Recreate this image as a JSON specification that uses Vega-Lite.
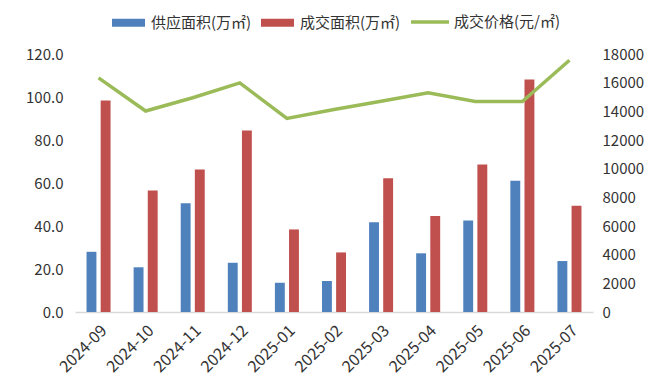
{
  "$schema": "https://vega.github.io/schema/vega-lite/v6.json",
  "width": 518,
  "height": 258,
  "autosize": {"type": "none"},
  "padding": {"left": 75, "top": 54, "right": 67, "bottom": 80},
  "background": "white",
  "config": {
    "view": {"stroke": null},
    "font": "Noto Sans CJK SC",
    "axis": {"labelFont": "Noto Sans CJK SC", "labelColor": "#333333", "labelFontSize": 15, "ticks": false, "grid": false, "title": null},
    "legend": {"labelFont": "Noto Sans CJK SC", "labelFontSize": 15, "labelColor": "#333333"}
  },
  "datasets": {
    "areas": [
      {"month": "2024-09", "series": "供应面积(万㎡)", "value": 28.0},
      {"month": "2024-10", "series": "供应面积(万㎡)", "value": 20.8},
      {"month": "2024-11", "series": "供应面积(万㎡)", "value": 50.6},
      {"month": "2024-12", "series": "供应面积(万㎡)", "value": 22.9},
      {"month": "2025-01", "series": "供应面积(万㎡)", "value": 13.6},
      {"month": "2025-02", "series": "供应面积(万㎡)", "value": 14.4},
      {"month": "2025-03", "series": "供应面积(万㎡)", "value": 41.7},
      {"month": "2025-04", "series": "供应面积(万㎡)", "value": 27.3},
      {"month": "2025-05", "series": "供应面积(万㎡)", "value": 42.6},
      {"month": "2025-06", "series": "供应面积(万㎡)", "value": 61.0},
      {"month": "2025-07", "series": "供应面积(万㎡)", "value": 23.7},
      {"month": "2024-09", "series": "成交面积(万㎡)", "value": 98.4},
      {"month": "2024-10", "series": "成交面积(万㎡)", "value": 56.5},
      {"month": "2024-11", "series": "成交面积(万㎡)", "value": 66.3},
      {"month": "2024-12", "series": "成交面积(万㎡)", "value": 84.4},
      {"month": "2025-01", "series": "成交面积(万㎡)", "value": 38.4},
      {"month": "2025-02", "series": "成交面积(万㎡)", "value": 27.7},
      {"month": "2025-03", "series": "成交面积(万㎡)", "value": 62.2},
      {"month": "2025-04", "series": "成交面积(万㎡)", "value": 44.6},
      {"month": "2025-05", "series": "成交面积(万㎡)", "value": 68.6},
      {"month": "2025-06", "series": "成交面积(万㎡)", "value": 108.1},
      {"month": "2025-07", "series": "成交面积(万㎡)", "value": 49.4}
    ],
    "prices": [
      {"month": "2024-09", "series": "成交价格(元/㎡)", "price": 16330},
      {"month": "2024-10", "series": "成交价格(元/㎡)", "price": 14020},
      {"month": "2024-11", "series": "成交价格(元/㎡)", "price": 14950},
      {"month": "2024-12", "series": "成交价格(元/㎡)", "price": 15980},
      {"month": "2025-01", "series": "成交价格(元/㎡)", "price": 13510},
      {"month": "2025-02", "series": "成交价格(元/㎡)", "price": 14130},
      {"month": "2025-03", "series": "成交价格(元/㎡)", "price": 14710},
      {"month": "2025-04", "series": "成交价格(元/㎡)", "price": 15290},
      {"month": "2025-05", "series": "成交价格(元/㎡)", "price": 14690},
      {"month": "2025-06", "series": "成交价格(元/㎡)", "price": 14690},
      {"month": "2025-07", "series": "成交价格(元/㎡)", "price": 17560}
    ]
  },
  "encoding": {
    "x": {
      "field": "month",
      "type": "ordinal",
      "scale": {"paddingInner": 0.49, "paddingOuter": 0.245},
      "axis": {"labelAngle": -45, "labelPadding": 10, "labelFontSize": 16, "domainColor": "#d9d9d9", "domainWidth": 1.5}
    }
  },
  "layer": [
    {
      "data": {"name": "areas"},
      "mark": {"type": "bar"},
      "encoding": {
        "xOffset": {"field": "series", "type": "nominal", "sort": ["供应面积(万㎡)", "成交面积(万㎡)"], "scale": {"paddingInner": 0.3}},
        "y": {
          "field": "value",
          "type": "quantitative",
          "scale": {"domain": [0, 120], "nice": false},
          "axis": {"orient": "left", "values": [0, 20, 40, 60, 80, 100, 120], "format": ".1f", "domain": false, "labelPadding": 12}
        },
        "fill": {
          "field": "series",
          "type": "nominal",
          "sort": ["供应面积(万㎡)", "成交面积(万㎡)"],
          "scale": {"domain": ["供应面积(万㎡)", "成交面积(万㎡)"], "range": ["#4F81BD", "#C0504D"]},
          "legend": {
            "title": null,
            "orient": "none",
            "direction": "horizontal",
            "legendX": 37,
            "legendY": -48,
            "symbolType": "M-1,-0.242H1V0.242H-1Z",
            "symbolSize": 1089,
            "symbolStrokeWidth": 0,
            "labelOffset": 6,
            "columnPadding": 9
          }
        }
      }
    },
    {
      "data": {"name": "prices"},
      "mark": {"type": "line", "strokeWidth": 3.5, "strokeJoin": "miter"},
      "encoding": {
        "y": {
          "field": "price",
          "type": "quantitative",
          "scale": {"domain": [0, 18000], "nice": false},
          "axis": {"orient": "right", "values": [0, 2000, 4000, 6000, 8000, 10000, 12000, 14000, 16000, 18000], "format": "d", "domain": false, "labelPadding": 9}
        },
        "stroke": {
          "field": "series",
          "type": "nominal",
          "scale": {"domain": ["成交价格(元/㎡)"], "range": ["#9BBB59"]},
          "legend": {
            "title": null,
            "orient": "none",
            "direction": "horizontal",
            "legendX": 334,
            "legendY": -53,
            "symbolType": "stroke",
            "symbolSize": 1444,
            "symbolStrokeWidth": 3.5,
            "labelOffset": 3
          }
        }
      }
    }
  ],
  "resolve": {"scale": {"y": "independent"}}
}
